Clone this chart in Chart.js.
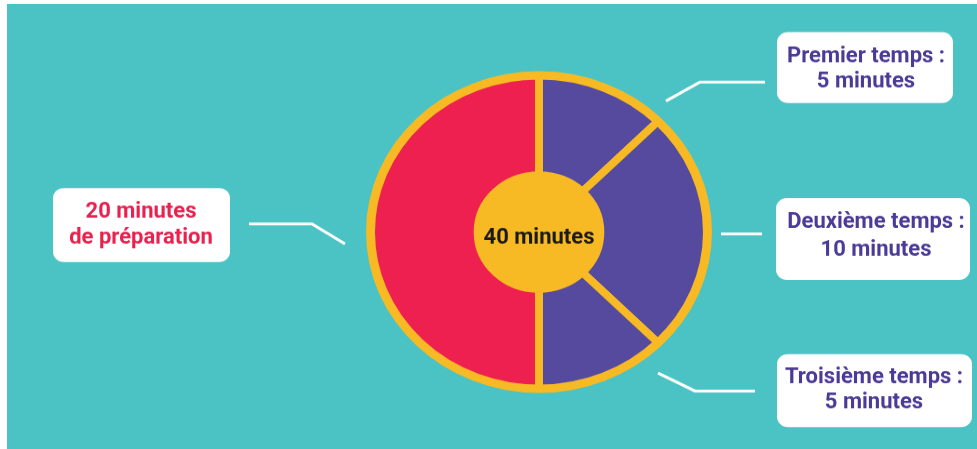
<!DOCTYPE html>
<html>
<head>
<meta charset="utf-8">
<script src="https://cdn.jsdelivr.net/npm/chart.js@4.4.1/dist/chart.umd.min.js"></script>
<style>
html,body{margin:0;padding:0;background:#fff;overflow:hidden;width:977px;height:449px}
#bg{position:absolute;left:7px;top:4px;width:970px;height:445px;background:#4bc3c5}
#wrap{position:absolute;left:0;top:0;width:977px;height:483px;transform:scaleY(0.93);transform-origin:0 0}
</style>
</head>
<body>
<div id="bg"></div>
<div id="wrap"><canvas id="chartCanvas"></canvas></div>
<script>
// data
const segmentNames = ['Premier temps', 'Deuxième temps', 'Troisième temps', 'Préparation'];
const minutes = [5, 10, 5, 20];
const labelTexts = [
    ['Premier temps :', '5 minutes'],
    ['Deuxième temps :', '10 minutes'],
    ['Troisième temps :', '5 minutes'],
    ['20 minutes', 'de préparation']
];
const centerText = minutes.reduce((a, b) => a + b, 0) + ' minutes';

// colours
const yellow = '#f8ba24';
const purple = '#564a9e';
const red = '#ee2050';
const purpleText = '#4c3b96';
const redText = '#e8214f';

// the picture is a bit squashed vertically
const S = 0.93;
function Y(y) { return y / S; }

// label boxes and connector lines (picture coords)
const boxes = [
    {x: 777, y: 32, w: 176, h: 71, lines: [57, 82], color: purpleText, path: [[666, 101], [700, 82], [765, 82]]},
    {x: 776, y: 198, w: 194, h: 82, lines: [222, 250], color: purpleText, path: [[721, 234], [762, 234]]},
    {x: 777, y: 354, w: 195, h: 73, lines: [378, 403], color: purpleText, path: [[658, 373], [695, 391], [755, 391]]},
    {x: 53, y: 188, w: 177, h: 74, lines: [212, 238], color: redText, path: [[249, 224], [312, 224], [345, 244]]}
];
const textCx = [866, 876, 874, 141];

const cx = 539, cy = Y(232);
const font = 'bold 22px Roboto';
let hx = 1;

function drawText(ctx, str, x, y, color) {
    ctx.save();
    ctx.translate(x, Y(y));
    ctx.scale(hx, 1 / S);
    ctx.fillStyle = color;
    ctx.fillText(str, 0, 0);
    ctx.restore();
}

const drawing = {
    id: 'drawing',
    beforeDatasetsDraw(chart) {
        const ctx = chart.ctx;
        const arc = chart.getDatasetMeta(0).data[0];
        ctx.save();
        ctx.fillStyle = yellow;
        ctx.beginPath();
        ctx.arc(arc.x, arc.y, arc.outerRadius + 5, 0, Math.PI * 2);
        ctx.fill();
        ctx.restore();
    },
    afterDatasetsDraw(chart) {
        const ctx = chart.ctx;
        const arc = chart.getDatasetMeta(0).data[0];
        ctx.save();
        ctx.font = font;
        hx = 158 / ctx.measureText('Premier temps :').width;
        ctx.textAlign = 'center';
        ctx.textBaseline = 'middle';

        //connector lines
        ctx.strokeStyle = '#ffffff';
        ctx.lineWidth = 3;
        boxes.forEach(b => {
            ctx.beginPath();
            b.path.forEach((p, i) => {
                if (i === 0) ctx.moveTo(p[0], Y(p[1]));
                else ctx.lineTo(p[0], Y(p[1]));
            });
            ctx.stroke();
        });

        //white boxes and texts
        boxes.forEach((b, i) => {
            ctx.fillStyle = '#ffffff';
            ctx.beginPath();
            ctx.roundRect(b.x, Y(b.y), b.w, b.h / S, 11);
            ctx.fill();
            labelTexts[i].forEach((t, j) => drawText(ctx, t, textCx[i], b.lines[j], b.color));
        });

        drawText(ctx, centerText, arc.x, 238, '#1b1a17');
        ctx.restore();
    }
};

const data = {
    labels: segmentNames,
    datasets: [{
        data: minutes,
        backgroundColor: [purple, purple, purple, red],
        borderColor: yellow,
        borderWidth: 8,
        hoverOffset: 0
    }]
};

const config = {
    type: 'doughnut',
    data: data,
    options: {
        responsive: true,
        maintainAspectRatio: false,
        animation: false,
        events: [],
        radius: 168,
        cutout: '36.5%',
        layout: {
            padding: {left: cx - 200, right: 977 - cx - 200, top: cy - 200, bottom: 483 - cy - 200}
        },
        plugins: {
            legend: {display: false},
            tooltip: {enabled: false}
        }
    },
    plugins: [drawing]
};

var myChart = new Chart(document.getElementById('chartCanvas'), config);
</script>
</body>
</html>
